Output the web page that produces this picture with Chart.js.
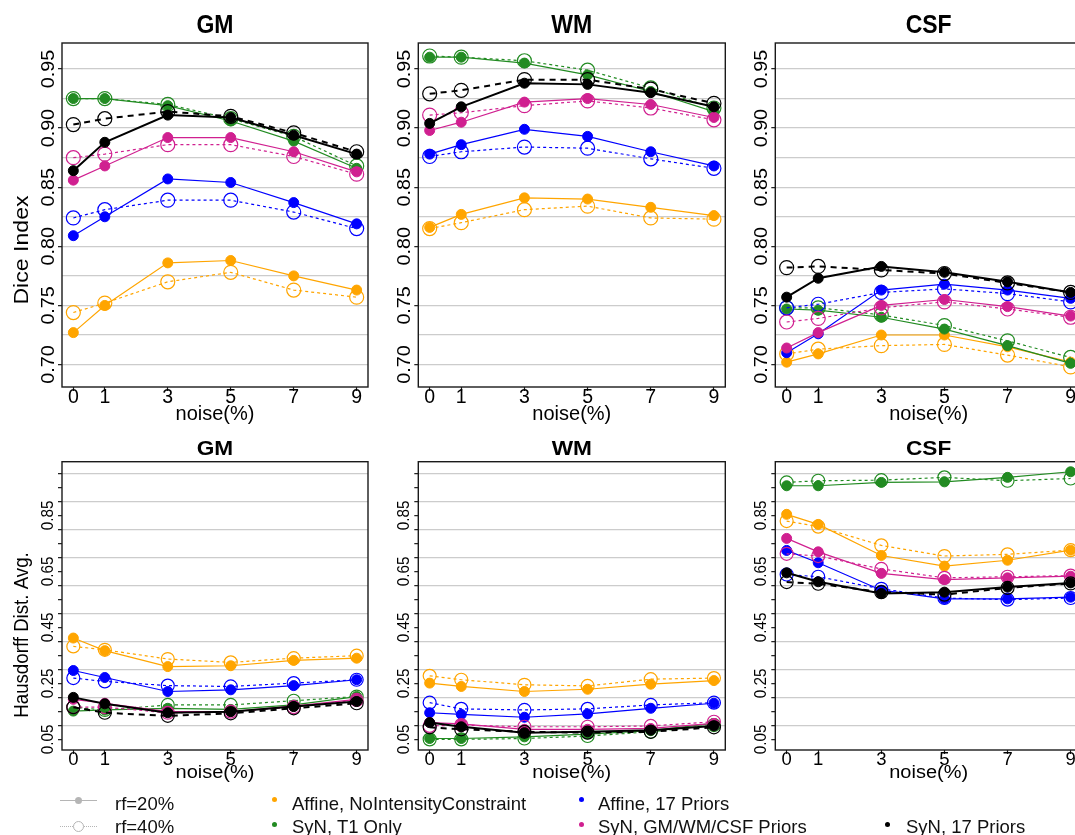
<!DOCTYPE html>
<html>
<head>
<meta charset="utf-8">
<script src="https://cdn.jsdelivr.net/npm/chart.js@4.4.0/dist/chart.umd.min.js"></script>
<style>
html, body { margin: 0; padding: 0; background: #fff; overflow: hidden; }
#wrap { position: relative; width: 1075px; height: 835px; overflow: hidden; }
#wrap canvas { position: absolute; }
.lg { position: absolute; font: 18.5px "Liberation Sans", Arial, sans-serif; color: #111; line-height: 20px; white-space: nowrap; }
.dot { position: absolute; width: 5px; height: 5px; border-radius: 50%; }
</style>
</head>
<body>
<div id="wrap">
  <canvas id="c00"></canvas><canvas id="c01"></canvas><canvas id="c02"></canvas>
  <canvas id="c10"></canvas><canvas id="c11"></canvas><canvas id="c12"></canvas>
</div>
<script>
// x values (noise %)
const noiseLevels = [0, 1, 3, 5, 7, 9];

// y axis ticks
const diceLabelTicks = [0.70, 0.75, 0.80, 0.85, 0.90, 0.95];
const diceGridTicks = [0.70, 0.725, 0.75, 0.775, 0.80, 0.825, 0.85, 0.875, 0.90, 0.925, 0.95];
const hausLabelTicks = [0.05, 0.25, 0.45, 0.65, 0.85];
const hausGridTicks = [0.1, 0.2, 0.3, 0.4, 0.5, 0.6, 0.7, 0.8, 0.9, 1.0];
const hausMarkTicks = [0.05, 0.1, 0.15, 0.2, 0.25, 0.3, 0.35, 0.4, 0.45, 0.5, 0.55, 0.6, 0.65, 0.7, 0.75, 0.8, 0.85, 0.9, 0.95, 1.0];

const methodNames = ['Affine, NoIntensityConstraint', 'SyN, T1 Only', 'Affine, 17 Priors', 'SyN, GM/WM/CSF Priors', 'SyN, 17 Priors'];
const methodColors = ['#FFA500', '#228B22', '#0000FF', '#D02090', '#000000'];

// Dice index, GM
const gmDiceAffNoInt20 = [0.727, 0.750, 0.786, 0.788, 0.775, 0.763];
const gmDiceAffNoInt40 = [0.744, 0.752, 0.770, 0.778, 0.763, 0.757];
const gmDiceSynT1_20 = [0.925, 0.925, 0.919, 0.906, 0.889, 0.866];
const gmDiceSynT1_40 = [0.925, 0.925, 0.920, 0.908, 0.893, 0.868];
const gmDiceAff17_20 = [0.809, 0.825, 0.857, 0.854, 0.837, 0.819];
const gmDiceAff17_40 = [0.824, 0.831, 0.839, 0.839, 0.829, 0.815];
const gmDiceSynGWC20 = [0.856, 0.868, 0.892, 0.892, 0.880, 0.863];
const gmDiceSynGWC40 = [0.875, 0.878, 0.886, 0.886, 0.876, 0.861];
const gmDiceSyn17_20 = [0.864, 0.888, 0.911, 0.909, 0.894, 0.878];
const gmDiceSyn17_40 = [0.903, 0.908, 0.914, 0.910, 0.896, 0.880];

// Dice index, WM
const wmDiceAffNoInt20 = [0.816, 0.827, 0.841, 0.840, 0.833, 0.826];
const wmDiceAffNoInt40 = [0.815, 0.820, 0.831, 0.834, 0.824, 0.823];
const wmDiceSynT1_20 = [0.960, 0.960, 0.955, 0.945, 0.931, 0.914];
const wmDiceSynT1_40 = [0.961, 0.960, 0.957, 0.949, 0.934, 0.917];
const wmDiceAff17_20 = [0.878, 0.886, 0.899, 0.893, 0.880, 0.868];
const wmDiceAff17_40 = [0.876, 0.880, 0.884, 0.883, 0.874, 0.866];
const wmDiceSynGWC20 = [0.898, 0.905, 0.922, 0.925, 0.920, 0.909];
const wmDiceSynGWC40 = [0.911, 0.913, 0.919, 0.923, 0.917, 0.907];
const wmDiceSyn17_20 = [0.904, 0.918, 0.938, 0.937, 0.930, 0.918];
const wmDiceSyn17_40 = [0.929, 0.932, 0.941, 0.941, 0.933, 0.921];

// Dice index, CSF
const csfDiceAffNoInt20 = [0.702, 0.709, 0.725, 0.725, 0.715, 0.702];
const csfDiceAffNoInt40 = [0.709, 0.713, 0.716, 0.717, 0.708, 0.698];
const csfDiceSynT1_20 = [0.747, 0.746, 0.740, 0.730, 0.716, 0.701];
const csfDiceSynT1_40 = [0.748, 0.748, 0.742, 0.733, 0.720, 0.706];
const csfDiceAff17_20 = [0.710, 0.726, 0.763, 0.768, 0.763, 0.756];
const csfDiceAff17_40 = [0.748, 0.751, 0.761, 0.764, 0.760, 0.753];
const csfDiceSynGWC20 = [0.714, 0.727, 0.750, 0.755, 0.749, 0.741];
const csfDiceSynGWC40 = [0.736, 0.739, 0.748, 0.753, 0.747, 0.740];
const csfDiceSyn17_20 = [0.757, 0.773, 0.783, 0.778, 0.770, 0.761];
const csfDiceSyn17_40 = [0.782, 0.783, 0.780, 0.777, 0.769, 0.761];

// Hausdorff dist. avg., GM
const gmHausAffNoInt20 = [0.412, 0.367, 0.310, 0.313, 0.332, 0.340];
const gmHausAffNoInt40 = [0.382, 0.370, 0.337, 0.325, 0.340, 0.349];
const gmHausSynT1_20 = [0.151, 0.155, 0.161, 0.157, 0.173, 0.203];
const gmHausSynT1_40 = [0.165, 0.155, 0.173, 0.173, 0.188, 0.203];
const gmHausAff17_20 = [0.296, 0.271, 0.221, 0.227, 0.242, 0.263];
const gmHausAff17_40 = [0.269, 0.257, 0.242, 0.239, 0.251, 0.263];
const gmHausSynGWC20 = [0.193, 0.179, 0.149, 0.149, 0.169, 0.193];
const gmHausSynGWC40 = [0.165, 0.165, 0.145, 0.149, 0.165, 0.191];
const gmHausSyn17_20 = [0.200, 0.177, 0.145, 0.149, 0.167, 0.185];
const gmHausSyn17_40 = [0.165, 0.145, 0.134, 0.143, 0.161, 0.179];

// Hausdorff dist. avg., WM
const wmHausAffNoInt20 = [0.251, 0.239, 0.221, 0.229, 0.247, 0.260];
const wmHausAffNoInt40 = [0.277, 0.263, 0.245, 0.241, 0.265, 0.269];
const wmHausSynT1_20 = [0.053, 0.053, 0.059, 0.069, 0.081, 0.107];
const wmHausSynT1_40 = [0.050, 0.050, 0.053, 0.062, 0.077, 0.101];
const wmHausAff17_20 = [0.145, 0.139, 0.129, 0.141, 0.161, 0.179];
const wmHausAff17_40 = [0.181, 0.159, 0.155, 0.159, 0.173, 0.181];
const wmHausSynGWC20 = [0.110, 0.105, 0.086, 0.086, 0.089, 0.107];
const wmHausSynGWC40 = [0.098, 0.101, 0.095, 0.095, 0.098, 0.113];
const wmHausSyn17_20 = [0.110, 0.095, 0.074, 0.077, 0.083, 0.098];
const wmHausSyn17_40 = [0.093, 0.086, 0.077, 0.074, 0.077, 0.093];

// Hausdorff dist. avg., CSF
const csfHausAffNoInt20 = [0.854, 0.818, 0.707, 0.669, 0.690, 0.726];
const csfHausAffNoInt40 = [0.830, 0.810, 0.743, 0.705, 0.711, 0.726];
const csfHausSynT1_20 = [0.956, 0.956, 0.968, 0.970, 0.986, 1.006];
const csfHausSynT1_40 = [0.968, 0.974, 0.976, 0.986, 0.974, 0.982];
const csfHausAff17_20 = [0.725, 0.681, 0.583, 0.552, 0.552, 0.558];
const csfHausAff17_40 = [0.639, 0.631, 0.588, 0.555, 0.549, 0.555];
const csfHausSynGWC20 = [0.768, 0.720, 0.643, 0.621, 0.627, 0.633];
const csfHausSynGWC40 = [0.713, 0.705, 0.659, 0.627, 0.631, 0.635];
const csfHausSyn17_20 = [0.645, 0.613, 0.571, 0.576, 0.594, 0.609];
const csfHausSyn17_40 = [0.612, 0.606, 0.576, 0.567, 0.591, 0.607];

// panel table: [rf20, rf40] per method, in method order
const panels = [
  { id: 'c00', row: 0, col: 0, title: 'GM', series: [[gmDiceAffNoInt20, gmDiceAffNoInt40], [gmDiceSynT1_20, gmDiceSynT1_40], [gmDiceAff17_20, gmDiceAff17_40], [gmDiceSynGWC20, gmDiceSynGWC40], [gmDiceSyn17_20, gmDiceSyn17_40]] },
  { id: 'c01', row: 0, col: 1, title: 'WM', series: [[wmDiceAffNoInt20, wmDiceAffNoInt40], [wmDiceSynT1_20, wmDiceSynT1_40], [wmDiceAff17_20, wmDiceAff17_40], [wmDiceSynGWC20, wmDiceSynGWC40], [wmDiceSyn17_20, wmDiceSyn17_40]] },
  { id: 'c02', row: 0, col: 2, title: 'CSF', series: [[csfDiceAffNoInt20, csfDiceAffNoInt40], [csfDiceSynT1_20, csfDiceSynT1_40], [csfDiceAff17_20, csfDiceAff17_40], [csfDiceSynGWC20, csfDiceSynGWC40], [csfDiceSyn17_20, csfDiceSyn17_40]] },
  { id: 'c10', row: 1, col: 0, title: 'GM', series: [[gmHausAffNoInt20, gmHausAffNoInt40], [gmHausSynT1_20, gmHausSynT1_40], [gmHausAff17_20, gmHausAff17_40], [gmHausSynGWC20, gmHausSynGWC40], [gmHausSyn17_20, gmHausSyn17_40]] },
  { id: 'c11', row: 1, col: 1, title: 'WM', series: [[wmHausAffNoInt20, wmHausAffNoInt40], [wmHausSynT1_20, wmHausSynT1_40], [wmHausAff17_20, wmHausAff17_40], [wmHausSynGWC20, wmHausSynGWC40], [wmHausSyn17_20, wmHausSyn17_40]] },
  { id: 'c12', row: 1, col: 2, title: 'CSF', series: [[csfHausAffNoInt20, csfHausAffNoInt40], [csfHausSynT1_20, csfHausSynT1_40], [csfHausAff17_20, csfHausAff17_40], [csfHausSynGWC20, csfHausSynGWC40], [csfHausSyn17_20, csfHausSyn17_40]] }
];

// page geometry of plot boxes
const colBox = [[62, 368], [418.3, 725.3], [775.3, 1082]];
const colCanvas = [[0, 388], [356, 389], [713, 389]];
const rowBox = [[43, 387], [461.7, 750]];
const rowCanvas = [[0, 430], [425, 365]];
const FONT = '"Liberation Sans", Arial, sans-serif';

const rowStyle = [
  { yMin: 0.681, yMax: 0.972, labels: diceLabelTicks, grid: diceGridTicks, marks: diceLabelTicks,
    titleSize: 23, titleScale: [1, 1.1], titleBase: 33, xSize: 19.5, xBase: 403,
    noiseSize: 20, noiseScale: [1, 1], noiseBase: 419.5, ySize: 18.6, yLen: 1.06, yGap: 8.5,
    yTitle: 'Dice Index', yTitleSize: 21, yTitleLen: 1.1, yTitleMid: 250, openR: 7, fillR: 5 },
  { yMin: 0.012, yMax: 1.042, labels: hausLabelTicks, grid: hausGridTicks, marks: hausMarkTicks,
    titleSize: 22, titleScale: [1.03, 0.95], titleBase: 455, xSize: 18.5, xBase: 765,
    noiseSize: 20, noiseScale: [1, 0.9], noiseBase: 778, ySize: 17, yLen: 0.9, yGap: 9.3,
    yTitle: 'Hausdorff Dist. Avg.', yTitleSize: 21, yTitleLen: 0.89, yTitleMid: 635, openR: 6.5, fillR: 5 }
];

const key = v => Math.round(v * 1000);

function textAt(ctx, txt, x, y, sx, sy, rot, align) {
  ctx.save();
  ctx.translate(x, y);
  if (rot) ctx.rotate(rot);
  ctx.scale(sx, sy);
  ctx.textAlign = align;
  ctx.textBaseline = 'alphabetic';
  ctx.fillText(txt, 0, 0);
  ctx.restore();
}

const panelDecor = {
  id: 'panelDecor',
  afterDraw(chart, args, o) {
    const { ctx, chartArea: a } = chart;
    const xs = chart.scales.x, ys = chart.scales.y;
    const st = o.st;
    const ox = o.ox, oy = o.oy;
    ctx.save();
    ctx.strokeStyle = '#1a1a1a';
    ctx.lineWidth = 1.4;
    ctx.strokeRect(a.left, a.top, a.right - a.left, a.bottom - a.top);
    ctx.fillStyle = '#000';
    const cx = (a.left + a.right) / 2;
    ctx.font = 'bold ' + st.titleSize + 'px ' + FONT;
    textAt(ctx, o.title, cx, st.titleBase - oy, st.titleScale[0], st.titleScale[1], 0, 'center');
    ctx.font = st.xSize + 'px ' + FONT;
    noiseLevels.forEach(v => textAt(ctx, String(v), xs.getPixelForValue(v), st.xBase - oy, 1, 1, 0, 'center'));
    ctx.font = st.noiseSize + 'px ' + FONT;
    textAt(ctx, 'noise(%)', cx, st.noiseBase - oy, st.noiseScale[0], st.noiseScale[1], 0, 'center');
    ctx.font = st.ySize + 'px ' + FONT;
    st.labels.forEach(v => textAt(ctx, v.toFixed(2), a.left - st.yGap, ys.getPixelForValue(v), st.yLen, 1, -Math.PI / 2, 'center'));
    if (o.col === 0) {
      ctx.font = st.yTitleSize + 'px ' + FONT;
      textAt(ctx, st.yTitle, 28 - ox, st.yTitleMid - oy, st.yTitleLen, 1, -Math.PI / 2, 'center');
    }
    ctx.restore();
  }
};
Chart.register(panelDecor);

panels.forEach(p => {
  const st = rowStyle[p.row];
  const [bl, br] = colBox[p.col];
  const [bt, bb] = rowBox[p.row];
  const [cl, cw] = colCanvas[p.col];
  const [ct, ch] = rowCanvas[p.row];
  const cv = document.getElementById(p.id);
  cv.width = cw; cv.height = ch;
  cv.style.left = cl + 'px'; cv.style.top = ct + 'px';

  const datasets = [];
  p.series.forEach((pair, m) => {
    const col = methodColors[m];
    const lw = m === 4 ? 2 : 1.2;
    datasets.push({
      data: noiseLevels.map((x, i) => ({ x: x, y: pair[0][i] })),
      borderColor: col, backgroundColor: col, borderWidth: lw,
      pointRadius: st.fillR, pointBackgroundColor: col, pointBorderColor: col, pointBorderWidth: 1,
      tension: 0, order: (4 - m) * 2
    });
    datasets.push({
      data: noiseLevels.map((x, i) => ({ x: x, y: pair[1][i] })),
      borderColor: col, backgroundColor: 'rgba(0,0,0,0)', borderWidth: lw,
      borderDash: m === 4 ? [6, 5] : [3, 3],
      pointRadius: st.openR, pointBackgroundColor: 'rgba(0,0,0,0)', pointBorderColor: col, pointBorderWidth: 1.2,
      tension: 0, order: (4 - m) * 2 + 1
    });
  });

  const gridSet = new Set(st.grid.map(key));
  const markSet = new Set(st.marks.map(key));
  const allTicks = Array.from(new Set(st.grid.concat(st.marks).map(key))).sort((u, v) => u - v).map(k => k / 1000);

  new Chart(cv, {
    type: 'line',
    data: { datasets },
    options: {
      responsive: false,
      animation: false,
      events: [],
      layout: { padding: { left: bl - cl - 4, right: cl + cw - br, top: bt - ct, bottom: ct + ch - bb - 4 } },
      plugins: {
        legend: { display: false },
        tooltip: { enabled: false },
        panelDecor: { st: st, title: p.title, col: p.col, ox: cl, oy: ct }
      },
      scales: {
        x: {
          type: 'linear', min: -0.36, max: 9.36,
          afterBuildTicks: s => { s.ticks = noiseLevels.map(v => ({ value: v })); },
          afterFit: s => { s.height = 4; },
          ticks: { display: false },
          border: { display: false },
          grid: { drawOnChartArea: false, drawTicks: true, tickLength: 4, tickColor: '#1a1a1a', tickWidth: 1.2 }
        },
        y: {
          type: 'linear', min: st.yMin, max: st.yMax,
          afterBuildTicks: s => { s.ticks = allTicks.map(v => ({ value: v })); },
          afterFit: s => { s.width = 4; },
          ticks: { display: false },
          border: { display: false },
          grid: {
            color: c => gridSet.has(key(c.tick.value)) ? '#cccccc' : 'rgba(0,0,0,0)',
            tickColor: c => markSet.has(key(c.tick.value)) ? '#1a1a1a' : 'rgba(0,0,0,0)',
            lineWidth: 1.3, tickWidth: 1.2, tickLength: 4, drawTicks: true
          }
        }
      }
    }
  });
});

// legend
const wrap = document.getElementById('wrap');
function addEl(cls, css, txt) {
  const d = document.createElement('div');
  d.className = cls;
  d.style.cssText = css;
  if (txt) d.textContent = txt;
  wrap.appendChild(d);
}
const legendSlots = [[274.5, 799, 292, 794], [274.5, 824.3, 292, 817], [581, 799, 598, 794], [581, 824.3, 598, 817], [887, 824.3, 906, 817]];
methodNames.forEach((name, m) => {
  const s = legendSlots[m];
  addEl('dot', 'left:' + (s[0] - 2.5) + 'px;top:' + (s[1] - 2.5) + 'px;background:' + methodColors[m] + ';');
  addEl('lg', 'left:' + s[2] + 'px;top:' + s[3] + 'px;', name);
});
addEl('', 'position:absolute;left:60px;top:800px;width:37px;border-top:1px solid #b5b5b5;');
addEl('', 'position:absolute;left:75px;top:797px;width:7px;height:7px;border-radius:50%;background:#b5b5b5;');
addEl('lg', 'left:115px;top:794px;', 'rf=20%');
addEl('', 'position:absolute;left:60px;top:826px;width:37px;border-top:1px dotted #b5b5b5;');
addEl('', 'position:absolute;left:73px;top:821px;width:9px;height:9px;border-radius:50%;border:1px solid #b5b5b5;background:#fff;');
addEl('lg', 'left:115px;top:817px;', 'rf=40%');
</script>
</body>
</html>
